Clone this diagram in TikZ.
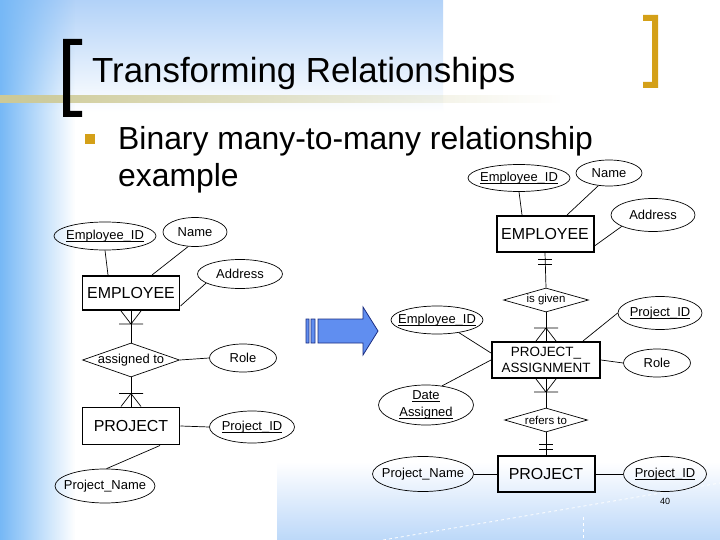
\documentclass[tikz,border=0pt]{standalone}
\usepackage{fontspec}
\setmainfont{Liberation Sans}
\usepackage{tikz}
\usetikzlibrary{shapes.geometric,calc,fadings}

\definecolor{sideblue}{RGB}{118,184,246}
\definecolor{topblue}{RGB}{178,210,248}
\definecolor{lowblue}{RGB}{188,216,249}
\definecolor{bandolive}{RGB}{206,202,150}
\definecolor{bracketgold}{RGB}{212,160,24}
\definecolor{arrowblue}{RGB}{96,142,240}
\definecolor{arrowedge}{RGB}{28,46,130}

\tikzfading[name=fadeaway,left color=transparent!0,right color=transparent!100]

\newcommand{\keyattr}[1]{%
  \setbox0=\hbox{#1}\rlap{\raisebox{-2.6pt}{\rule{\wd0}{1.1pt}}}\box0}
\newcommand{\crowfoot}[2]{% #2 = 1 foot below the box, -1 above
  \draw[conn] ($(#1)+(0,#2*13)$) -- ($(#1)+(-10,0)$)
    ($(#1)+(0,#2*13)$) -- ($(#1)+(10,0)$)
    ($(#1)+(-12,#2*13)$) -- ($(#1)+(12,#2*13)$);}
\newcommand{\onlyone}[2]{%
  \draw[conn] ($(#1)+(-7,#2*6)$) -- ($(#1)+(7,#2*6)$)
    ($(#1)+(-7,#2*11)$) -- ($(#1)+(7,#2*11)$);}

\begin{document}
\begin{tikzpicture}[
  x=1bp,y=-1bp,
  conn/.style={line width=0.7pt},
  entity/.style={
    draw,line width=2pt,inner sep=2bp,
    font=\fontsize{16}{18}\selectfont
  },
  attr/.style={
    ellipse,draw,line width=0.7pt,inner xsep=-20bp,inner ysep=-6bp,
    font=\fontsize{13}{15}\selectfont
  },
  rel/.style={
    diamond,draw,line width=0.7pt,inner xsep=-30bp,inner ysep=-6bp,
    font=\fontsize{11.5}{13}\selectfont
  },
  slidetext/.style={anchor=base west,inner sep=0pt}
]
\useasboundingbox (0,0) rectangle (720,540);

% ---- slide background ----
\fill[white] (0,0) rectangle (720,540);
\shade[top color=topblue,bottom color=white] (0,0) rectangle (443,112);
\shade[top color=white,bottom color=lowblue] (277,462) rectangle (720,540);
\draw[white,dashed,line width=0.8pt] (383,540) -- (720,483);
\draw[white,dashed,line width=0.6pt] (583,517) -- (583,540);
\fill[sideblue,path fading=fadeaway] (0,0) rectangle (75,540);
\fill[bandolive,path fading=fadeaway] (0,95) rectangle (560,103);

% ---- brackets ----
\fill[black] (63,39) rectangle (70,117) (63,39) rectangle (82,45) (63,111) rectangle (82,117);
\fill[bracketgold] (652,15) rectangle (658,88) (643,15) rectangle (658,21) (643,82) rectangle (658,88);

% ---- title and bullet ----
\node[slidetext,font=\fontsize{35}{40}\selectfont] (title) at (92,83) {Transforming Relationships};
\fill[bracketgold] (85,134) rectangle (95,144);
\node[slidetext,font=\fontsize{32}{37}\selectfont] (bullet) at (118,150) {Binary many-to-many relationship};
\node[slidetext,font=\fontsize{32}{37}\selectfont] (bullet2) at (118,187) {example};

% ---- left: many-to-many form ----
\node[attr,minimum width=102bp,minimum height=28bp] (lEmpID) at (105,236) {\keyattr{Employee\_ID}};
\node[attr,minimum width=64bp,minimum height=29bp] (lName) at (195,232) {Name};
\node[entity,minimum width=97bp,minimum height=34bp] (lEmp) at (131,293) {EMPLOYEE};
\node[attr,minimum width=85bp,minimum height=29bp] (lAddr) at (240,274) {Address};
\node[rel,minimum width=97bp,minimum height=34bp,font=\fontsize{13}{15}\selectfont] (lAssign) at (131,360) {assigned to};
\node[attr,minimum width=67bp,minimum height=28bp] (lRole) at (243,358) {Role};
\node[entity,minimum width=97bp,minimum height=37bp] (lProj) at (131,426) {PROJECT};
\node[attr,minimum width=85bp,minimum height=32bp] (lProjID) at (252,427) {\keyattr{Project\_ID}};
\node[attr,minimum width=100bp,minimum height=34bp] (lProjName) at (105,486) {Project\_Name};

\draw[conn] (lEmpID.south) -- ([xshift=-23bp]lEmp.north);
\draw[conn] (lName.245) -- ([xshift=21bp]lEmp.north);
\draw[conn] (lAddr.195) -- ([yshift=5bp]lEmp.south east);
\draw[conn] (lEmp.south) -- (lAssign.north);
\crowfoot{lEmp.south}{1}
\draw[conn] (lAssign.east) -- (lRole.west);
\draw[conn] (lAssign.south) -- (lProj.north);
\crowfoot{lProj.north}{-1}
\draw[conn] (lProj.east) -- (lProjID.west);
\draw[conn] ([xshift=29bp]lProj.south) -- (lProjName.85);

% ---- arrow ----
\filldraw[fill=arrowblue,draw=arrowedge,line width=0.8pt]
  (306,319) rectangle (309,343)
  (311,319) rectangle (315,343)
  (318,319) -- (363,319) -- (363,307) -- (378,331) -- (363,355) -- (363,343) -- (318,343) -- cycle;

% ---- right: associative entity form ----
\node[attr,minimum width=102bp,minimum height=27bp] (rEmpID) at (519,178) {\keyattr{Employee\_ID}};
\node[attr,minimum width=66bp,minimum height=26bp] (rName) at (609,173) {Name};
\node[entity,minimum width=97bp,minimum height=36bp] (rEmp) at (545,234) {EMPLOYEE};
\node[attr,minimum width=84bp,minimum height=33bp] (rAddr) at (653,215) {Address};
\node[rel,minimum width=85bp,minimum height=24bp] (rGiven) at (546,300) {is given};
\node[attr,minimum width=84bp,minimum height=33bp] (rProjID) at (660,313) {\keyattr{Project\_ID}};
\node[attr,minimum width=92bp,minimum height=28bp] (rEmpID2) at (437,320) {\keyattr{Employee\_ID}};
\node[entity,minimum width=108bp,minimum height=36bp,align=center,
  font=\fontsize{13.5}{16}\selectfont] (rAssign) at (546,360) {PROJECT\_\\ASSIGNMENT};
\node[attr,minimum width=67bp,minimum height=28bp] (rRole) at (657,363) {Role};
\node[attr,minimum width=95bp,minimum height=40bp,align=center,
  font=\fontsize{13}{17}\selectfont] (rDate) at (426,405) {\keyattr{Date}\\\keyattr{Assigned}};
\node[rel,minimum width=83bp,minimum height=24bp] (rRefers) at (546,420) {refers to};
\node[entity,minimum width=97bp,minimum height=36bp] (rProj) at (546,474) {PROJECT};
\node[attr,minimum width=101bp,minimum height=35bp] (rProjName) at (423,474) {Project\_Name};
\node[attr,minimum width=83bp,minimum height=35bp] (rProjID2) at (665,474) {\keyattr{Project\_ID}};
\node[font=\fontsize{9}{10}\selectfont] (pageno) at (665,501) {40};

\draw[conn] (rEmpID.south) -- ([xshift=-23bp]rEmp.north);
\draw[conn] (rName.230) -- ([xshift=22bp]rEmp.north);
\draw[conn] (rAddr.200) -- ([yshift=7bp]rEmp.south east);
\draw[conn] (rEmp.south) -- (rGiven.north);
\onlyone{rEmp.south}{1}
\draw[conn] (rGiven.south) -- (rAssign.north);
\crowfoot{rAssign.north}{-1}
\draw[conn] (rEmpID2.330) -- ([yshift=7bp]rAssign.west);
\draw[conn] (rProjID.west) -- ([xshift=37bp]rAssign.north);
\draw[conn] (rAssign.east) -- (rRole.west);
\draw[conn] (rDate.50) -- (rAssign.west);
\draw[conn] (rAssign.south) -- (rRefers.north);
\crowfoot{rAssign.south}{1}
\draw[conn] (rRefers.south) -- (rProj.north);
\onlyone{rProj.north}{-1}
\draw[conn] (rProjName.east) -- (rProj.west);
\draw[conn] (rProj.east) -- (rProjID2.west);

\end{tikzpicture}
\end{document}
